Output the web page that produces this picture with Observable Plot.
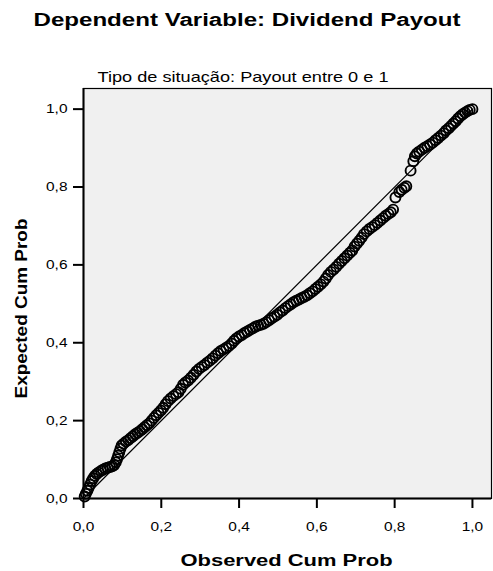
<!DOCTYPE html>
<html>
<head>
<meta charset="utf-8">
<script src="https://cdn.jsdelivr.net/npm/d3@7"></script>
<script src="https://cdn.jsdelivr.net/npm/@observablehq/plot@0.6"></script>
<style>
  body { margin: 0; background: #fff; }
  #chart { width: 493px; height: 571px; }
</style>
</head>
<body>
<div id="chart"></div>
<script>
const titleText = "Dependent Variable: Dividend Payout";
const subtitleText = "Tipo de situação: Payout entre 0 e 1";
const xLabel = "Observed Cum Prob";
const yLabel = "Expected Cum Prob";

const xTicks = [0, 0.2, 0.4, 0.6, 0.8, 1.0];
const yTicks = [0, 0.2, 0.4, 0.6, 0.8, 1.0];
const diagonal = [0, 1];

const observed = [
  0.003, 0.006, 0.010, 0.013, 0.017, 0.021, 0.025, 0.029, 0.034, 0.039,
  0.045, 0.050, 0.056, 0.062, 0.068, 0.074, 0.079, 0.083, 0.086, 0.089,
  0.092, 0.095, 0.098, 0.103, 0.109, 0.115, 0.121, 0.127, 0.133, 0.139,
  0.145, 0.151, 0.157, 0.163, 0.169, 0.175, 0.181, 0.187, 0.193, 0.199,
  0.205, 0.211, 0.217, 0.224, 0.231, 0.238, 0.244, 0.250, 0.256, 0.262,
  0.269, 0.276, 0.283, 0.290, 0.297, 0.304, 0.311, 0.318, 0.325, 0.332,
  0.339, 0.346, 0.353, 0.360, 0.367, 0.374, 0.381, 0.387, 0.393, 0.400,
  0.407, 0.414, 0.421, 0.428, 0.435, 0.442, 0.449, 0.456, 0.463, 0.470,
  0.477, 0.484, 0.491, 0.498, 0.505, 0.512, 0.519, 0.526, 0.533, 0.540,
  0.547, 0.554, 0.561, 0.568, 0.575, 0.582, 0.589, 0.596, 0.603, 0.610,
  0.617, 0.623, 0.629, 0.636, 0.643, 0.650, 0.657, 0.664, 0.671, 0.678,
  0.685, 0.691, 0.697, 0.703, 0.709, 0.715, 0.721, 0.728, 0.735, 0.742,
  0.749, 0.756, 0.763, 0.770, 0.777, 0.784, 0.790, 0.796, 0.802, 0.812,
  0.818, 0.825, 0.830, 0.841, 0.848, 0.852, 0.857, 0.863, 0.870, 0.877,
  0.884, 0.891, 0.898, 0.905, 0.912, 0.919, 0.926, 0.932, 0.939, 0.945,
  0.951, 0.957, 0.963, 0.969, 0.975, 0.981, 0.987, 0.993, 1.000
];
const expected = [
  0.005, 0.012, 0.020, 0.027, 0.036, 0.045, 0.052, 0.058, 0.063, 0.067,
  0.071, 0.074, 0.077, 0.079, 0.081, 0.083, 0.086, 0.093, 0.101, 0.110,
  0.119, 0.128, 0.136, 0.141, 0.146, 0.150, 0.155, 0.160, 0.165, 0.169,
  0.173, 0.178, 0.183, 0.188, 0.193, 0.200, 0.207, 0.214, 0.220, 0.226,
  0.233, 0.242, 0.250, 0.257, 0.263, 0.268, 0.273, 0.282, 0.292, 0.298,
  0.303, 0.310, 0.318, 0.326, 0.333, 0.338, 0.343, 0.349, 0.354, 0.360,
  0.367, 0.373, 0.379, 0.383, 0.387, 0.392, 0.398, 0.405, 0.411, 0.416,
  0.420, 0.425, 0.429, 0.433, 0.437, 0.441, 0.444, 0.446, 0.449, 0.453,
  0.458, 0.463, 0.467, 0.472, 0.478, 0.483, 0.489, 0.494, 0.499, 0.504,
  0.508, 0.511, 0.515, 0.518, 0.522, 0.527, 0.532, 0.538, 0.544, 0.550,
  0.557, 0.565, 0.574, 0.582, 0.588, 0.595, 0.603, 0.610, 0.617, 0.624,
  0.631, 0.637, 0.647, 0.655, 0.662, 0.670, 0.679, 0.686, 0.692, 0.697,
  0.702, 0.708, 0.714, 0.720, 0.726, 0.731, 0.735, 0.742, 0.773, 0.787,
  0.793, 0.798, 0.802, 0.842, 0.866, 0.879, 0.886, 0.891, 0.896, 0.901,
  0.905, 0.909, 0.914, 0.920, 0.926, 0.932, 0.938, 0.945, 0.951, 0.957,
  0.963, 0.969, 0.976, 0.982, 0.987, 0.991, 0.995, 0.998, 1.000
];

const points = observed.map((x, i) => ({x, y: expected[i]}));
const fmt = d => d.toFixed(1).replace(".", ",");
const font = "'Liberation Sans', Arial, sans-serif";

const plot = Plot.plot({
  width: 493,
  height: 571,
  marginTop: 88,
  marginBottom: 73,
  marginLeft: 83,
  marginRight: 2,
  style: {fontFamily: font, fontSize: "12.5px", color: "#000", background: "#fff", overflow: "visible"},
  x: {domain: [0, 1.049], label: null},
  y: {domain: [0, 1.053], label: null},
  marks: [
    Plot.frame({fill: "#f0f0f0", stroke: "#000", strokeWidth: 1.2}),
    Plot.line(diagonal, {x: d => d, y: d => d, stroke: "#000", strokeWidth: 1.2}),
    Plot.dot(points, {x: "x", y: "y", r: 5, stroke: "#000", strokeWidth: 1.9, fill: "none"}),
    Plot.ruleX([0], {stroke: "#000", strokeWidth: 2}),
    Plot.ruleY([0], {stroke: "#000", strokeWidth: 2}),
    Plot.axisX(xTicks, {tickSize: 10, tickPadding: 14, strokeWidth: 2, tickFormat: fmt, label: null, fontSize: 12.5}),
    Plot.axisY(yTicks, {tickSize: 10, tickPadding: 6, strokeWidth: 2, tickFormat: fmt, label: null, fontSize: 12.5}),
    Plot.text([titleText], {frameAnchor: "top-left", dx: -50, dy: -62.5, textAnchor: "start", lineAnchor: "bottom", fontWeight: "bold", fontSize: 17.5, fill: "#000"}),
    Plot.text([subtitleText], {frameAnchor: "top-left", dx: 14, dy: -7, textAnchor: "start", lineAnchor: "bottom", fontSize: 15, fill: "#000"}),
    Plot.text([xLabel], {frameAnchor: "bottom", dx: -1, dy: 67.7, textAnchor: "middle", lineAnchor: "bottom", fontWeight: "bold", fontSize: 16, fill: "#000"}),
    Plot.text([yLabel], {frameAnchor: "left", dx: -57, dy: 15, rotate: -90, textAnchor: "middle", lineAnchor: "bottom", fontWeight: "bold", fontSize: 16, fill: "#000"})
  ]
});

// stretch texts horizontally to match the reference's wide lettering
const widths = new Map([[titleText, 427], [subtitleText, 291], [xLabel, 212], [yLabel, 180]]);
d3.select(plot).selectAll("text").each(function() {
  const t = this.textContent;
  if (widths.has(t)) {
    this.setAttribute("textLength", widths.get(t));
    this.setAttribute("lengthAdjust", "spacingAndGlyphs");
  } else if (/^\d,\d$/.test(t)) {
    this.setAttribute("textLength", 21.5);
    this.setAttribute("lengthAdjust", "spacingAndGlyphs");
  }
});

document.getElementById("chart").appendChild(plot);
</script>
</body>
</html>
